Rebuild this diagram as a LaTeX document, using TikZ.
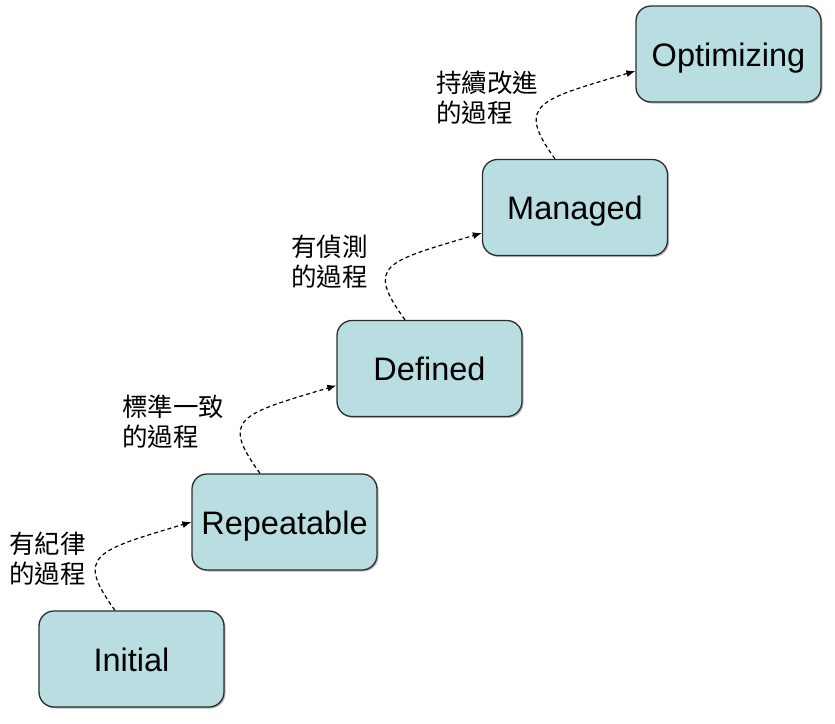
\documentclass[tikz,border=0pt]{standalone}
\usepackage{fontspec}
\setmainfont{Liberation Sans}
\newfontfamily\cjk{Noto Sans CJK TC}
\usetikzlibrary{arrows.meta,shadows}
\definecolor{boxfill}{RGB}{185,222,225}
\definecolor{boxline}{RGB}{45,45,45}
\tikzset{
  stagebox/.style={draw=boxline, line width=1.3pt, fill=boxfill, rounded corners=15pt,
    minimum width=185pt, minimum height=96pt, inner sep=0pt,
    text height=25pt, text depth=1pt,
    font=\fontsize{32.5}{38}\selectfont,
    drop shadow={shadow xshift=1.5pt, shadow yshift=-1.5pt, fill=black!45, opacity=0.6}},
  steplabel/.style={anchor=north west, inner sep=0pt, align=left,
    font=\cjk\fontsize{25.5}{30}\selectfont},
  stagelink/.style={line width=1.2pt, dash pattern=on 4pt off 3pt,
    -{Latex[length=9pt,width=7pt]}}
}
\begin{document}
\begin{tikzpicture}[x=1pt,y=-1pt]
\useasboundingbox (0,0) rectangle (835,723);
\node[stagebox] (init) at (131.5,659) {Initial};
\node[stagebox] (rep)  at (284.5,522) {Repeatable};
\node[stagebox] (def)  at (429.5,368.5) {Defined};
\node[stagebox] (man)  at (575,207.5) {Managed};
\node[stagebox] (opt)  at (728.5,54) {Optimizing};

\node[steplabel] (l1) at (9,532)   {有紀律\\的過程};
\node[steplabel] (l2) at (122,395) {標準一致\\的過程};
\node[steplabel] (l3) at (291,235) {有偵測\\的過程};
\node[steplabel] (l4) at (436,71)  {持續改進\\的過程};

\draw[stagelink] ([xshift=-16.5pt]init.north) .. controls +(-40,-55) and +(-97,29) .. (rep.west);
\draw[stagelink] ([xshift=-24.5pt]rep.north) .. controls +(-40,-55) and +(-97,29) .. ([yshift=-17pt]def.west);
\draw[stagelink] ([xshift=-24.5pt]def.north) .. controls +(-40,-55) and +(-97,29) .. ([yshift=-25.5pt]man.west);
\draw[stagelink] ([xshift=-20pt]man.north) .. controls +(-40,-55) and +(-97,29) .. ([yshift=-17pt]opt.west);
\end{tikzpicture}
\end{document}
